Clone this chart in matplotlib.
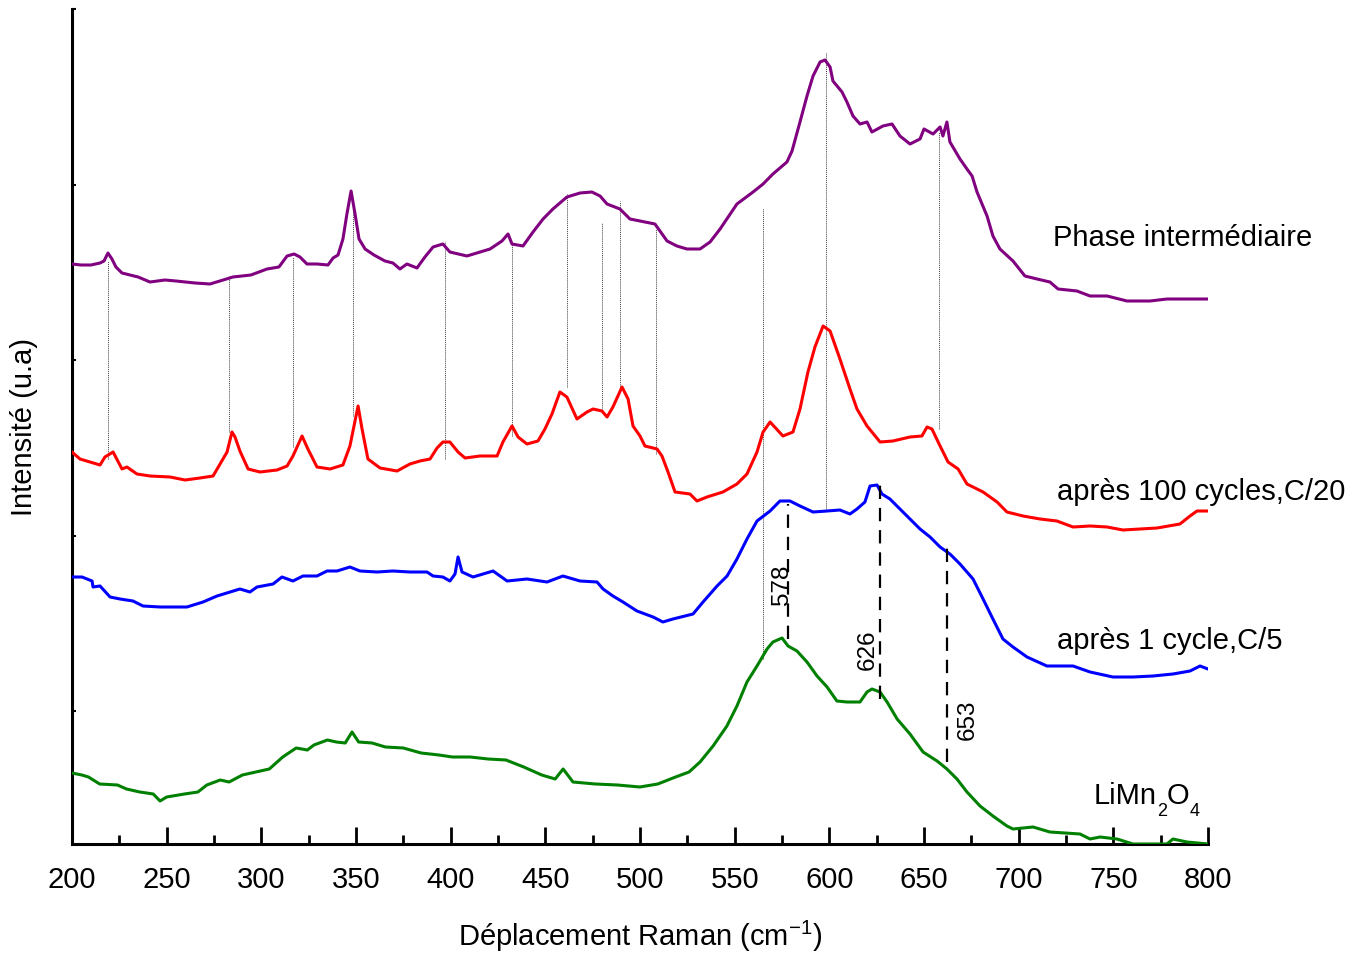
import matplotlib
matplotlib.use("Agg")
import matplotlib.pyplot as plt
from matplotlib.ticker import MultipleLocator
from matplotlib.transforms import offset_copy

plt.rcParams['font.family'] = ['Liberation Sans', 'DejaVu Sans']
plt.rcParams['mathtext.fontset'] = 'custom'
plt.rcParams['mathtext.rm'] = 'Liberation Sans'
plt.rcParams['mathtext.it'] = 'Liberation Sans'
plt.rcParams['mathtext.default'] = 'regular'

# ---------------- data (Raman shift in cm-1, intensity in a.u., offset stacked) -------------
phase_x = [200, 204.8, 210.0, 214.8, 216.9, 219.0, 221.1, 223.2, 226.4, 234.9, 241.2, 249.1, 254.9,
           265.0, 272.9, 285.0, 294.5, 303.0, 309.3, 313.6, 317.3, 320.4, 324.1, 329.4, 335.2, 337.9,
           340.5, 343.1, 345.2, 347.4, 349.5, 351.6, 354.8, 359.5, 365.3, 369.5, 373.2, 376.9, 382.2,
           386.4, 390.7, 395.9, 399.6, 408.6, 420.8, 427.1, 430.3, 432.4, 438.2, 443.5, 448.8, 454.0,
           461.4, 468.3, 474.6, 478.9, 482.6, 489.4, 494.7, 500.0, 507.9, 514.3, 519.5, 524.8, 531.7,
           537.0, 542.3, 551.2, 559.7, 565.0, 570.2, 577.6, 580.3, 584.5, 588.2, 591.4, 595.1, 597.7,
           600.4, 601.9, 606.7, 609.3, 612.5, 616.2, 619.9, 622.5, 628.3, 633.1, 637.3, 642.6, 647.9,
           650.0, 654.8, 658.5, 660.0, 662.1, 663.7, 669.0, 672.7, 675.4, 678.0, 683.3, 686.4, 690.1,
           697.0, 703.3, 709.7, 716.5, 720.8, 730.8, 737.7, 746.7, 757.2, 769.4, 778.3, 788.9, 800]
phase_y = [580, 579, 579, 581, 583, 591, 585, 577, 571, 567, 562, 564, 563,
           561, 560, 567, 569, 575, 577, 588, 590, 587, 580, 580, 579, 586,
           589, 605, 630, 653, 630, 605, 595, 589, 583, 581, 575, 580, 576,
           587, 597, 600, 592, 588, 595, 603, 610, 600, 598, 612, 625, 635,
           647, 651, 652, 648, 640, 635, 625, 623, 620, 603, 598, 595, 595,
           602, 615, 640, 652, 660, 670, 682, 693, 722, 748, 768, 782, 784,
           777, 763, 752, 742, 728, 720, 722, 712, 718, 720, 708, 700, 705,
           715, 710, 717, 708, 722, 702, 685, 675, 668, 652, 628, 608, 595,
           583, 568, 565, 562, 555, 553, 548, 548, 543, 543, 545, 545, 545]

c100_x = [200, 204.2, 209.5, 214.8, 217.4, 221.7, 226.4, 229.0, 234.3, 241.2, 251.8, 259.7, 267.6,
          274.5, 278.2, 281.9, 284.5, 286.1, 288.7, 293.0, 299.3, 308.3, 313.6, 316.7, 321.5, 324.6,
          329.4, 336.3, 343.1, 346.8, 351.1, 353.2, 356.3, 362.7, 371.7, 378.5, 383.8, 389.1, 392.8,
          395.9, 399.6, 403.9, 407.6, 415.5, 424.5, 427.6, 432.4, 435.6, 440.3, 446.1, 449.8, 453.5,
          457.7, 461.4, 466.7, 472.0, 475.2, 479.9, 482.6, 485.7, 490.5, 493.7, 496.3, 500.0, 502.6,
          509.0, 511.6, 514.8, 518.5, 526.4, 530.1, 535.4, 543.8, 551.2, 556.5, 561.8, 565.0, 568.7,
          575.5, 580.8, 584.5, 588.7, 592.4, 596.7, 600.4, 605.6, 610.9, 614.6, 619.9, 626.8, 633.6,
          642.6, 648.9, 651.6, 654.2, 658.5, 662.7, 668.0, 672.7, 681.2, 688.6, 693.8, 702.3, 711.3,
          720.2, 728.7, 737.7, 746.7, 755.1, 764.1, 773.1, 785.2, 790.5, 794.2, 800]
c100_y = [392, 385, 382, 379, 387, 392, 375, 377, 370, 368, 367, 364, 366,
          368, 380, 392, 412, 407, 393, 375, 372, 374, 378, 388, 408, 395,
          377, 375, 379, 398, 438, 415, 385, 376, 373, 380, 383, 385, 396,
          402, 402, 392, 386, 388, 388, 402, 418, 407, 400, 403, 415, 430,
          452, 447, 425, 432, 435, 433, 427, 437, 457, 445, 418, 408, 398,
          395, 388, 372, 352, 350, 343, 347, 352, 360, 370, 392, 412, 422,
          408, 412, 435, 472, 497, 518, 513, 485, 455, 435, 418, 402, 403,
          407, 408, 417, 415, 398, 382, 375, 360, 352, 342, 332, 328, 325,
          323, 317, 318, 317, 314, 315, 316, 320, 328, 333, 333]

c1_x = [200, 205.3, 210.6, 211.1, 214.8, 220.1, 225.4, 232.2, 237.5, 246.5, 260.7, 269.2, 276.6,
        283.5, 288.7, 294.0, 297.7, 306.2, 310.9, 316.7, 322.0, 329.4, 334.7, 340.0, 346.8, 352.1,
        361.1, 369.5, 378.5, 387.5, 390.7, 395.9, 399.6, 402.3, 403.9, 406.0, 411.8, 422.4, 429.8,
        440.3, 450.9, 459.3, 468.3, 477.3, 480.5, 485.7, 491.0, 498.4, 506.9, 512.1, 517.4, 528.0,
        533.3, 540.7, 546.0, 551.2, 556.5, 561.8, 568.7, 573.9, 579.2, 584.5, 591.4, 598.8, 605.6,
        610.9, 614.6, 618.8, 621.5, 625.2, 627.8, 632.0, 637.3, 642.6, 647.9, 653.2, 658.5, 663.7,
        669.0, 675.9, 681.2, 686.4, 691.7, 697.0, 704.4, 714.9, 728.7, 737.7, 749.8, 760.4, 771.0,
        781.5, 790.5, 795.8, 800]
c1_y = [267, 267, 263, 257, 258, 247, 245, 243, 238, 237, 237, 242, 248,
        252, 255, 252, 257, 260, 267, 263, 268, 268, 273, 273, 277, 273,
        272, 273, 272, 272, 268, 267, 263, 270, 287, 272, 267, 273, 263,
        265, 262, 268, 263, 262, 255, 248, 242, 233, 227, 222, 225, 230,
        242, 258, 268, 285, 305, 323, 333, 343, 343, 338, 332, 333, 334,
        330, 335, 342, 358, 359, 350, 345, 335, 325, 315, 307, 297, 290,
        280, 265, 245, 225, 205, 197, 187, 178, 178, 172, 167, 167, 168,
        170, 173, 178, 175]

limn_x = [200, 205.2, 208.7, 214.6, 224.0, 228.8, 235.8, 242.9, 246.5, 250, 259.4, 266.5, 271.2,
          278.3, 283.0, 290.0, 297.1, 304.2, 311.3, 318.4, 324.3, 327.8, 334.9, 339.6, 344.3, 347.9,
          351.4, 358.5, 365.5, 375.0, 384.4, 393.8, 400.9, 410.3, 419.8, 429.2, 438.6, 448.1, 455.2,
          459.4, 464.6, 476.4, 488.1, 499.9, 509.4, 518.8, 525.9, 531.7, 538.6, 545.9, 551.2, 556.5,
          561.8, 567.1, 570.2, 575.0, 578.2, 582.9, 588.2, 593.5, 598.8, 604.0, 609.3, 616.2, 619.9,
          622.5, 626.8, 630.5, 635.8, 642.6, 649.5, 656.9, 662.1, 667.4, 672.7, 679.6, 686.4, 693.8,
          697.0, 707.6, 716.5, 732.4, 737.7, 743.0, 751.9, 760.4, 778.3, 781.5, 788.9, 800]
limn_y = [71, 69, 67, 60, 59, 55, 52, 50, 43, 47, 50, 52, 59,
          64, 62, 69, 72, 75, 87, 96, 94, 99, 104, 102, 101, 112,
          102, 101, 97, 96, 91, 89, 87, 87, 85, 84, 77, 69, 65,
          75, 62, 60, 59, 57, 60, 67, 72, 82, 98, 118, 138, 162,
          178, 195, 202, 206, 198, 193, 182, 168, 157, 143, 142, 142, 152,
          155, 152, 142, 125, 110, 92, 83, 75, 65, 52, 38, 28, 18,
          15, 17, 12, 10, 5, 7, 5, 0, 0, 5, 2, 0]

# peak correspondences (thin dotted guides): position, upper end, lower end
guide_pos = [219.0, 282.9, 316.7, 348.4, 397.0, 432.4, 461.4, 479.9, 489.4, 508.4, 565.0, 598.2, 657.9]
guide_top = [583, 568, 587, 645, 603, 602, 650, 621, 643, 615, 636, 792, 712]
guide_bot = [385, 412, 397, 428, 385, 408, 457, 435, 452, 390, 185, 335, 415]

# LiMn2O4 reference bands (dashed guides)
band_pos = [578, 627, 662]
band_top = [340, 365, 303]
band_bot = [205, 145, 82]
band_labels = ['578', '626', '653']
band_label_x = [575.0, 620.4, 673.2]
band_label_y = [260, 195, 125]

series_names = ['Phase intermédiaire', 'après 100 cycles,C/20', 'après 1 cycle,C/5']
limn_parts = [('LiMn', False), ('2', True), ('O', False), ('4', True)]

# ---------------- figure -------------
fig = plt.figure(figsize=(13.66, 9.54), dpi=100)
ax = fig.add_axes([72 / 1366, 109 / 954, 1136 / 1366, 835 / 954])

for gx, gt, gb in zip(guide_pos, guide_top, guide_bot):
    ax.plot([gx, gx], [gb, gt], color='0.25', lw=0.7, ls=(0, (1, 1)), zorder=1)

ax.plot(phase_x, phase_y, color='#800080', lw=2.2, zorder=3)
ax.plot(c100_x, c100_y, color='#FF0000', lw=2.2, zorder=3)
ax.plot(c1_x, c1_y, color='#0000FF', lw=2.2, zorder=3)
ax.plot(limn_x, limn_y, color='#008000', lw=2.2, zorder=3)

for bx, bt, bb in zip(band_pos, band_top, band_bot):
    ax.plot([bx, bx], [bb, bt], color='black', lw=1.6, ls=(0, (6, 4)), zorder=4)
for lab, lx, ly in zip(band_labels, band_label_x, band_label_y):
    ax.text(lx, ly, lab, rotation=90, ha='center', va='center', fontsize=17.5)

ax.text(718.1, 599, series_names[0], fontsize=21, ha='left', va='baseline')
ax.text(720.2, 345, series_names[1], fontsize=21, ha='left', va='baseline')
ax.text(720.2, 196, series_names[2], fontsize=21, ha='left', va='baseline')

ax.set_xlim(200, 800)
ax.set_ylim(0, 835)

# LiMn2O4 label built piecewise (lowered, small subscripts as in the original)
renderer = fig.canvas.get_renderer()
dx_pts = 0.0
for txt, is_sub in limn_parts:
    tr = offset_copy(ax.transData, fig=fig, x=dx_pts, y=(-8.5 if is_sub else 0), units='points')
    t = ax.text(739.6, 41, txt, transform=tr,
                fontsize=13 if is_sub else 21, ha='left', va='baseline')
    w = t.get_window_extent(renderer).width * 72.0 / fig.dpi
    dx_pts += w

ax.xaxis.set_major_locator(MultipleLocator(50))
ax.xaxis.set_minor_locator(MultipleLocator(25))
ax.set_yticks([133, 308.5, 484, 659.5, 835])
ax.set_yticklabels([])

for s in ['top', 'right']:
    ax.spines[s].set_visible(False)
for s in ['left', 'bottom']:
    ax.spines[s].set_linewidth(2.2)

ax.tick_params(axis='x', which='major', direction='in', length=12, width=2, labelsize=21, pad=15)
ax.tick_params(axis='x', which='minor', direction='in', length=6.5, width=2)
ax.tick_params(axis='y', which='major', direction='in', length=3, width=1.5)

ax.set_xlabel('Déplacement Raman (cm$^{-1}$)', fontsize=21, labelpad=18)
ax.set_ylabel('Intensité (u.a)', fontsize=21, labelpad=21)

fig.savefig('out.png', dpi=100)
